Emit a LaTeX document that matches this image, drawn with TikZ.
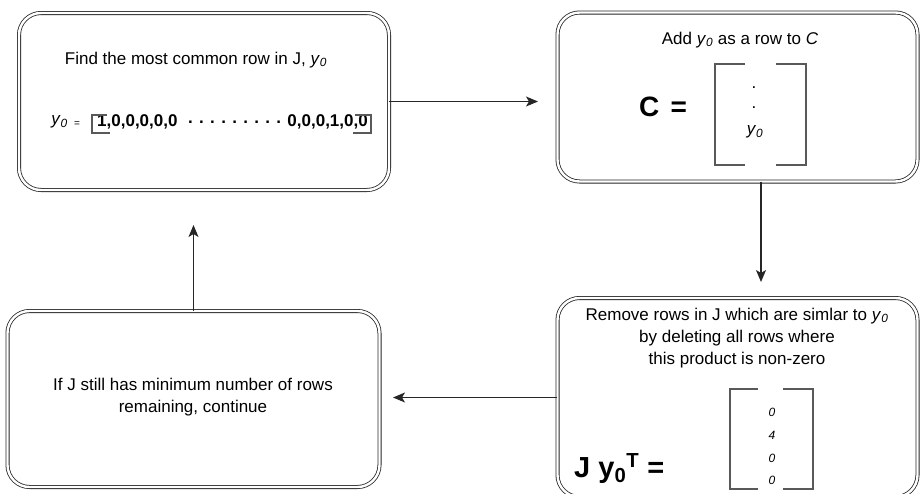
\documentclass[tikz,border=0pt]{standalone}
\usepackage{fontspec}
\setmainfont{Liberation Sans}
\usetikzlibrary{arrows.meta}
\newcommand\yzero{\textit{y}\textsubscript{\textit{0}}}
\begin{document}
\begin{tikzpicture}[x=1pt,y=-1pt,
  box/.style={draw=black!85, double=white, double distance=2.4pt, line width=0.8pt, rounded corners=22pt, inner sep=0pt},
  txt/.style={font=\fontsize{17}{22}\selectfont, align=center, inner sep=0pt},
  bold/.style={font=\fontsize{17}{22}\selectfont\bfseries, inner sep=0pt},
  small/.style={font=\fontsize{12}{14}\selectfont\itshape, inner sep=0pt},
  brk/.style={draw=black!65, line width=1.1pt},
  arr/.style={draw=black!85, line width=1.1pt, -{Stealth[length=12pt,width=10pt,inset=3pt]}},
]
\useasboundingbox (0,0) rectangle (920,493);
\clip (0,0) rectangle (920,493);
% boxes
\node[box, minimum width=370pt, minimum height=177pt] (b1) at (204,101.5) {};
\node[box, minimum width=360pt, minimum height=169pt] (b2) at (737.5,97) {};
\node[box, minimum width=360pt, minimum height=199pt] (b3) at (737.5,397.5) {};
\node[box, minimum width=372pt, minimum height=176pt] (b4) at (193.5,399) {};
% box 1 content
\node[txt] (t1) at (196,60) {Find the most common row in J, \yzero};
\node[txt, anchor=east] (y0a) at (68,122) {\yzero};
\node[inner sep=0pt, font=\fontsize{10}{12}\selectfont] (eq1) at (77,124) {=};
\node[bold, anchor=west] (g1) at (97,122) {1,0,0,0,0,0};
\node[bold, anchor=west] (dots) at (188,122) {. . . . . . . . .};
\node[bold, anchor=east] (g2) at (368,122) {0,0,0,1,0,0};
\draw[brk] (107,115) -- (92,115) -- (92,133) -- (110,133);
\draw[brk] (355,115) -- (371,115) -- (371,133) -- (353,133);
% box 2 content
\node[txt] (t2) at (740,40) {Add \yzero{} as a row to \textit{C}};
\node[inner sep=0pt, font=\fontsize{28}{30}\selectfont\bfseries] (ceq) at (663,107) {C\hspace{0.4em}=};
\draw[brk] (745,64) -- (715,64) -- (715,165) -- (745,165);
\draw[brk] (776,64) -- (806,64) -- (806,165) -- (776,165);
\node[txt] (d1) at (754,88) {.};
\node[txt] (d2) at (754,108) {.};
\node[txt] (y0m) at (755,132) {\yzero};
% box 3 content
\node[txt] (t3) at (737,338) {Remove rows in J which are simlar to \yzero\\by deleting all rows where\\this product is non-zero};
\node[inner sep=0pt, font=\fontsize{29}{31}\selectfont\bfseries, anchor=base west] (jy) at (574,477) {J y\textsubscript{0}\textsuperscript{T} =};
\draw[brk] (758,389) -- (730,389) -- (730,489) -- (758,489);
\draw[brk] (783,389) -- (813,389) -- (813,489) -- (783,489);
\node[small] (n1) at (772,412) {0};
\node[small] (n2) at (772,435) {4};
\node[small] (n3) at (772,458) {0};
\node[small] (n4) at (772,480) {0};
% box 4 content
\node[txt] (t4) at (193,397) {If J still has minimum number of rows\\remaining, continue};
% arrows
\coordinate (a1) at (538,101.5);
\coordinate (a2) at (761,282);
\coordinate (a3) at (393,397.5);
\coordinate (a4) at (193.5,225);
\draw[arr] (b1.east) -- (a1);
\draw[arr] (b2.south -| a2) -- (a2);
\draw[arr] (b3.west) -- (a3);
\draw[arr] (b4.north) -- (a4);
\end{tikzpicture}
\end{document}
